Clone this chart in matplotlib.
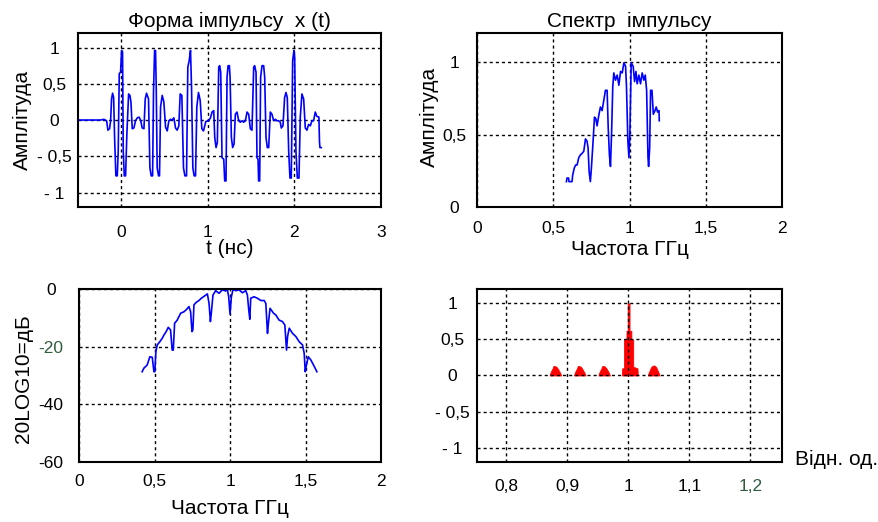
import matplotlib
matplotlib.use("Agg")
import matplotlib.pyplot as plt

plt.rcParams['font.family'] = ['Liberation Sans', 'DejaVu Sans']

# Форма імпульсу x(t): (t, нс ; амплітуда)
pulse = [(-0.5, 0), (-0.238, 0), (-0.2, 0.01), (-0.169, -0.01), (-0.154, -0.14), (-0.135, -0.12),
         (-0.123, -0.01), (-0.112, 0.29), (-0.1, 0.37), (-0.088, 0.31), (-0.077, -0.24),
         (-0.062, -0.77), (-0.046, -0.77), (-0.035, -0.43), (-0.023, 0.64), (-0.008, 0.66),
         (0.004, 0.96), (0.015, 0.94), (0.023, -0.43), (0.035, -0.77), (0.05, -0.77),
         (0.065, -0.19), (0.085, 0.36), (0.1, 0.34), (0.112, 0.25), (0.127, -0.12),
         (0.146, -0.11), (0.165, -0.01), (0.185, 0.03), (0.208, 0.04), (0.227, -0.02),
         (0.242, -0.11), (0.262, -0.12), (0.277, 0.29), (0.292, 0.37), (0.315, 0.29),
         (0.331, -0.66), (0.346, -0.77), (0.362, -0.77), (0.373, 0.41), (0.385, 0.96),
         (0.396, 0.96), (0.404, 0.45), (0.415, -0.66), (0.431, -0.77), (0.442, -0.77),
         (0.454, 0.18), (0.473, 0.34), (0.492, 0.25), (0.512, -0.1), (0.531, -0.15),
         (0.55, -0.01), (0.569, 0.01), (0.588, 0), (0.608, 0.03), (0.627, -0.11),
         (0.646, -0.14), (0.665, -0.08), (0.681, 0.36), (0.7, 0.34), (0.719, -0.66),
         (0.735, -0.77), (0.754, -0.77), (0.769, 0.73), (0.785, 0.82), (0.8, 0.96),
         (0.812, 0.45), (0.827, -0.66), (0.842, -0.77), (0.858, -0.77), (0.873, 0.18),
         (0.892, 0.38), (0.912, 0.27), (0.931, -0.12), (0.95, -0.15), (0.977, -0.02),
         (1.01, -0.01), (1.03, 0.03), (1.049, 0.11), (1.068, 0.13), (1.08, -0.24),
         (1.095, -0.38), (1.11, -0.31), (1.126, 0.73), (1.137, 0.75), (1.149, 0.66),
         (1.164, -0.52), (1.184, -0.54), (1.195, -0.84), (1.21, -0.84), (1.222, 0.59),
         (1.234, 0.75), (1.249, 0.75), (1.257, 0.59), (1.272, -0.24), (1.287, -0.38),
         (1.303, -0.33), (1.318, 0.08), (1.337, 0.11), (1.357, -0.01), (1.376, -0.03),
         (1.395, -0.01), (1.414, -0.03), (1.434, -0.01), (1.453, 0.11), (1.472, 0.08),
         (1.491, -0.12), (1.51, -0.14), (1.53, 0.73), (1.541, 0.75), (1.557, 0.66),
         (1.568, -0.52), (1.58, -0.54), (1.587, -0.84), (1.599, -0.84), (1.61, 0.59),
         (1.626, 0.75), (1.645, 0.75), (1.657, 0.59), (1.672, -0.24), (1.687, -0.38),
         (1.703, -0.38), (1.722, 0.11), (1.741, 0.08), (1.76, -0.01), (1.78, 0.01),
         (1.799, -0.01), (1.818, -0.01), (1.837, -0.03), (1.849, -0.11), (1.868, -0.08),
         (1.887, 0.31), (1.903, 0.38), (1.918, 0.31), (1.934, -0.43), (1.949, -0.8),
         (1.964, -0.8), (1.98, 0.82), (1.995, 0.96), (2.003, 0.87), (2.018, -0.43),
         (2.034, -0.8), (2.053, -0.8), (2.068, 0.04), (2.087, 0.36), (2.107, 0.29),
         (2.126, -0.11), (2.145, -0.14), (2.164, -0.06), (2.184, -0.08), (2.203, -0.01),
         (2.222, -0.01), (2.241, 0.11), (2.26, 0.05), (2.283, 0.04), (2.29, -0.3),
         (2.295, -0.38), (2.31, -0.38)]

# Спектр (ГГц ; відн. амплітуда)
spectrum = [(0.586, 0.175), (0.59, 0.2), (0.6, 0.2), (0.603, 0.175), (0.623, 0.175), (0.627, 0.22),
            (0.638, 0.27), (0.647, 0.29), (0.656, 0.29), (0.667, 0.34), (0.678, 0.36), (0.689, 0.37),
            (0.7, 0.385), (0.711, 0.47), (0.721, 0.455), (0.728, 0.41), (0.735, 0.245), (0.743, 0.175),
            (0.75, 0.27), (0.761, 0.455), (0.77, 0.62), (0.779, 0.61), (0.787, 0.56), (0.798, 0.63),
            (0.809, 0.69), (0.82, 0.665), (0.831, 0.735), (0.842, 0.805), (0.853, 0.805), (0.86, 0.55),
            (0.868, 0.36), (0.875, 0.28), (0.882, 0.5), (0.89, 0.83), (0.897, 0.925), (0.908, 0.875),
            (0.919, 0.91), (0.93, 0.84), (0.941, 0.935), (0.952, 0.925), (0.963, 0.995), (0.974, 0.97),
            (0.98, 0.83), (0.989, 0.455), (0.996, 0.34), (1.002, 0.5), (1.011, 0.995), (1.024, 0.97),
            (1.033, 0.865), (1.042, 0.935), (1.05, 0.85), (1.061, 0.91), (1.072, 0.85), (1.083, 0.925),
            (1.094, 0.875), (1.103, 0.91), (1.112, 0.805), (1.121, 0.34), (1.125, 0.28), (1.132, 0.41),
            (1.138, 0.805), (1.147, 0.805), (1.156, 0.64), (1.167, 0.665), (1.175, 0.69), (1.184, 0.655),
            (1.193, 0.665), (1.195, 0.595)]

# Спектр у дБ
spectrum_db = [(0.418, -28.7), (0.429, -27.5), (0.451, -26.4), (0.469, -23.5), (0.485, -23.7),
               (0.496, -28.7), (0.502, -28.7), (0.509, -21.7), (0.518, -19.4), (0.535, -18.3),
               (0.551, -17.1), (0.562, -16.0), (0.577, -14.8), (0.591, -13.3), (0.606, -14.2),
               (0.617, -21.2), (0.624, -21.2), (0.633, -11.9), (0.65, -10.8), (0.673, -8.4),
               (0.695, -7.9), (0.712, -7.1), (0.728, -6.1), (0.739, -7.9), (0.748, -14.8),
               (0.754, -14.2), (0.761, -5.5), (0.777, -4.6), (0.794, -4.0), (0.81, -3.2),
               (0.832, -2.4), (0.85, -1.7), (0.861, -5.0), (0.87, -11.3), (0.876, -8.4),
               (0.887, -2.1), (0.905, -0.6), (0.927, -1.5), (0.949, -0.3), (0.971, -0.7),
               (0.982, -0.1), (0.991, -2.7), (1.0, -8.7), (1.009, -2.7), (1.02, -0.1),
               (1.038, -0.6), (1.06, -0.3), (1.082, -1.3), (1.104, -0.6), (1.115, -2.1),
               (1.124, -7.3), (1.131, -10.5), (1.137, -3.2), (1.159, -2.7), (1.181, -3.2),
               (1.204, -4.0), (1.226, -4.0), (1.237, -5.0), (1.248, -15.4), (1.254, -11.9),
               (1.265, -6.7), (1.288, -8.4), (1.303, -9.0), (1.325, -10.8), (1.347, -11.3),
               (1.363, -12.5), (1.374, -21.2), (1.381, -16.5), (1.392, -13.6), (1.414, -15.4),
               (1.436, -16.5), (1.458, -18.3), (1.48, -19.4), (1.491, -22.3), (1.498, -28.7),
               (1.504, -26.9), (1.518, -23.5), (1.535, -24.6), (1.558, -26.9), (1.575, -28.7)]

# Червоні спектральні лінії (відн. од.)
hump1 = [(0.871, 0.0), (0.872, 0.03), (0.874, 0.07), (0.876, 0.1), (0.877, 0.13), (0.880, 0.13),
         (0.882, 0.12), (0.884, 0.1), (0.886, 0.07), (0.888, 0.04), (0.890, 0.0)]
hump2 = [(0.911, 0.0), (0.912, 0.03), (0.914, 0.07), (0.916, 0.1), (0.917, 0.13), (0.920, 0.13),
         (0.922, 0.12), (0.924, 0.1), (0.926, 0.07), (0.928, 0.04), (0.930, 0.0)]
hump3 = [(0.951, 0.0), (0.952, 0.03), (0.954, 0.07), (0.956, 0.1), (0.957, 0.13), (0.960, 0.13),
         (0.962, 0.12), (0.964, 0.1), (0.966, 0.07), (0.968, 0.04), (0.970, 0.0)]
hump_main = [(0.9895, 0.0), (0.990, 0.1), (0.993, 0.1), (0.993, 0.5), (0.997, 0.5), (0.997, 0.62),
             (0.999, 0.62), (0.999, 1.0), (1.002, 1.0), (1.002, 0.62), (1.005, 0.62), (1.005, 0.5),
             (1.008, 0.5), (1.008, 0.12), (1.015, 0.1), (1.0155, 0.0)]
hump5 = [(1.032, 0.0), (1.033, 0.03), (1.035, 0.07), (1.037, 0.11), (1.039, 0.13), (1.042, 0.14),
         (1.044, 0.13), (1.046, 0.11), (1.048, 0.07), (1.050, 0.03), (1.051, 0.0)]

t_ticks = [0, 1, 2, 3]
t_labels = ['0', '1', '2', '3']
amp_ticks = [-1, -0.5, 0, 0.5, 1]
amp_labels = ['- 1', '- 0,5', '0', '0,5', '1']
f_ticks = [0, 0.5, 1, 1.5, 2]
f_labels = ['0', '0,5', '1', '1,5', '2']
spec_ticks = [0, 0.5, 1]
spec_labels = ['0', '0,5', '1']
db_ticks = [-60, -40, -20, 0]
db_labels = ['-60', '-40', '-20', '0']
rel_ticks = [0.8, 0.9, 1.0, 1.1, 1.2]
rel_labels = ['0,8', '0,9', '1', '1,1', '1,2']

green = '#2f5e3d'
grid_kw = dict(color='black', linestyle=(0, (2.2, 2.2)), linewidth=1.0)
FS = 15
TS = 12.5


def setup(ax, xpad, ypad):
    for s in ax.spines.values():
        s.set_linewidth(1.5)
    ax.tick_params(length=0, labelsize=TS)
    ax.tick_params(axis='x', pad=xpad)
    ax.tick_params(axis='y', pad=ypad)
    for lab in ax.get_yticklabels():
        lab.set_horizontalalignment('center')
    ax.grid(True, **grid_kw)


fig = plt.figure(figsize=(8.79, 5.22), dpi=100)

# Форма імпульсу
ax1 = fig.add_axes([0.0887, 0.6034, 0.3447, 0.3333])
t, x = zip(*pulse)
ax1.plot(t, x, color='#0000ff', linewidth=1.2)
ax1.set_xlim(-0.5, 3)
ax1.set_ylim(-1.2, 1.2)
ax1.set_xticks(t_ticks, t_labels)
ax1.set_yticks(amp_ticks, amp_labels)
setup(ax1, 13, 17)
ax1.set_title('Форма імпульсу  x (t)', fontsize=FS, pad=4)
ax1.set_xlabel('t (нс)', fontsize=FS, va='center')
ax1.xaxis.set_label_coords(0.5, -0.24)
ax1.set_ylabel('Амплітуда', fontsize=FS, va='center')
ax1.yaxis.set_label_coords(-0.182, 0.5)

# Спектр імпульсу
ax2 = fig.add_axes([0.5427, 0.6034, 0.347, 0.3333])
f, s = zip(*spectrum)
ax2.plot(f, s, color='#0000ff', linewidth=1.2)
ax2.set_xlim(0, 2)
ax2.set_ylim(0, 1.2)
ax2.set_xticks(f_ticks, f_labels)
ax2.set_yticks(spec_ticks, spec_labels)
setup(ax2, 10, 16.5)
ax2.set_title('Спектр  імпульсу', fontsize=FS, pad=4)
ax2.set_xlabel('Частота ГГц', fontsize=FS, va='center')
ax2.xaxis.set_label_coords(0.5, -0.245)
ax2.set_ylabel('Амплітуда', fontsize=FS, va='center')
ax2.yaxis.set_label_coords(-0.157, 0.52)

# Спектр у дБ
ax3 = fig.add_axes([0.0899, 0.115, 0.3436, 0.3314])
f, d = zip(*spectrum_db)
ax3.plot(f, d, color='#0000ff', linewidth=1.2)
ax3.set_xlim(0, 2)
ax3.set_ylim(-60, 0)
ax3.set_xticks(f_ticks, f_labels)
ax3.set_yticks(db_ticks, db_labels)
setup(ax3, 9, 20)
ax3.get_yticklabels()[2].set_color(green)
ax3.set_xlabel('Частота ГГц', fontsize=FS, va='center')
ax3.xaxis.set_label_coords(0.5, -0.27)
ax3.set_ylabel('20LOG10=дБ', fontsize=FS, va='center')
ax3.yaxis.set_label_coords(-0.185, 0.48)

# Спектральні лінії
ax4 = fig.add_axes([0.5427, 0.115, 0.347, 0.3314])
for h in [hump1, hump2, hump3, hump_main, hump5]:
    hf, hy = zip(*h)
    ax4.fill_between(hf, 0, hy, color='#ff0000', linewidth=0.6, edgecolor='#ff0000')
ax4.set_xlim(0.752, 1.252)
ax4.set_ylim(-1.2, 1.2)
ax4.set_xticks(rel_ticks, rel_labels)
ax4.set_yticks(amp_ticks, amp_labels)
setup(ax4, 12, 18)
ax4.get_xticklabels()[4].set_color(green)
fig.text(795 / 879, 1 - 459 / 522, 'Відн. од.', fontsize=FS, ha='left', va='center')

fig.savefig('out.png', dpi=100)
